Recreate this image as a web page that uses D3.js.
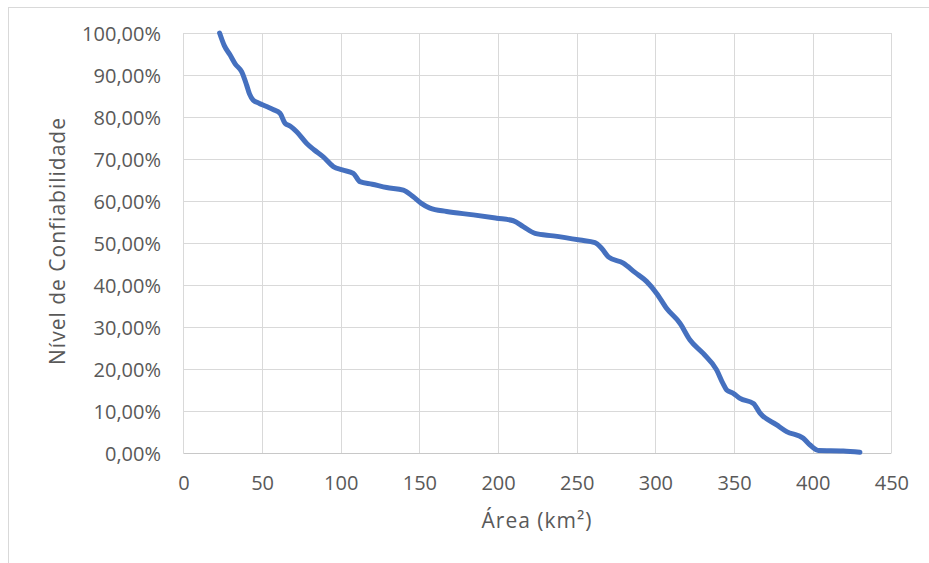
<!DOCTYPE html>
<html><head><meta charset="utf-8">
<script src="https://cdn.jsdelivr.net/npm/d3@7/dist/d3.min.js"></script>
<style>body{margin:0;background:#fff}svg{display:block}</style>
</head><body><svg id="c" width="929" height="563"></svg>
<script>
const area = [23,26,29.6,33,37,40.2,42,44.4,48,52.9,57,61.4,64.6,68,72,78.4,83,88.9,95.3,101,108,112.2,120,129.2,139.8,146.1,151,156.7,167.3,184.3,199.1,209.7,216,223.5,235.1,252.1,261.6,265.9,270.1,279.6,287,294.5,300.8,307.2,315.6,322,330.4,338.9,343,345.3,349.5,353.8,362.3,366.5,377.1,383.4,394,398.3,403.6,419.4,430];
const conf = [100,97,94.8,92.6,90.8,87.6,85.5,84.0,83.3,82.5,81.8,80.9,78.5,77.8,76.5,73.7,72.2,70.5,68.2,67.4,66.6,64.6,64,63.2,62.6,61.0,59.5,58.3,57.5,56.7,55.9,55.3,53.9,52.3,51.7,50.7,50.1,48.7,46.7,45.2,43,40.8,38.0,34.4,30.9,26.9,23.7,19.8,16.5,15.0,14.2,13.0,11.8,9.5,6.7,5.1,3.5,1.9,0.6,0.5,0.2];
const xTicks = [0,50,100,150,200,250,300,350,400,450];
const yTicks = [0,10,20,30,40,50,60,70,80,90,100];
const xTitle = "Área (km²)";
const yTitle = "Nível de Confiabilidade";

const svg = d3.select("#c");
const font = "'Open Sans', sans-serif";
svg.append("rect").attr("x",8.5).attr("y",7.5).attr("width",1000).attr("height",1000)
  .attr("fill","#fff").attr("stroke","#d9d9d9");

const x = d3.scaleLinear().domain([0,450]).range([183.4,891.4]);
const y = d3.scaleLinear().domain([0,100]).range([453,33]);
const loc = d3.formatLocale({decimal:",",thousands:".",grouping:[3],currency:["",""]});
const fmtY = d => loc.format(".2f")(d) + "%";

const g = svg.append("g");
g.selectAll("line.h").data(yTicks).join("line")
  .attr("x1",x(0)).attr("x2",x(450)).attr("y1",d=>Math.round(y(d))+0.5).attr("y2",d=>Math.round(y(d))+0.5)
  .attr("stroke",d=>d===0?"#c8c8c8":"#d9d9d9").attr("stroke-width",1);
g.selectAll("line.v").data(xTicks).join("line")
  .attr("y1",y(0)).attr("y2",y(100)).attr("x1",d=>Math.round(x(d))+0.5).attr("x2",d=>Math.round(x(d))+0.5)
  .attr("stroke","#d9d9d9").attr("stroke-width",1);

const xAxis = d3.axisBottom(x).tickValues(xTicks).tickSize(0).tickPadding(0).tickFormat(d3.format("d"));
const xa = svg.append("g").attr("transform",`translate(0,${y(0)})`).call(xAxis);
xa.select(".domain").remove();
xa.selectAll("text").attr("y",37).attr("dy",null).attr("fill","#595959")
  .style("font-family",font).style("font-size","20px");

const yAxis = d3.axisLeft(y).tickValues(yTicks).tickSize(0).tickPadding(0).tickFormat(fmtY);
const ya = svg.append("g").attr("transform",`translate(161,0)`).call(yAxis);
ya.select(".domain").remove();
ya.selectAll("text").attr("x",0).attr("dy","0.36em").attr("fill","#595959")
  .style("font-family",font).style("font-size","20px");

const pts = area.map((a,i)=>[a,conf[i]]);
svg.append("path").datum(pts)
  .attr("d",d3.line().x(d=>x(d[0])).y(d=>y(d[1])).curve(d3.curveMonotoneX))
  .attr("fill","none").attr("stroke","#4570bf").attr("stroke-width",5)
  .attr("stroke-linejoin","round").attr("stroke-linecap","round");

svg.append("text").attr("x",537).attr("y",528).attr("text-anchor","middle")
  .attr("fill","#595959").style("font-family",font).style("font-size","21px")
  .style("letter-spacing","1px").text(xTitle);
svg.append("text").attr("transform","translate(65,241) rotate(-90)").attr("text-anchor","middle")
  .attr("fill","#595959").style("font-family",font).style("font-size","21px")
  .style("letter-spacing","1px").text(yTitle);
</script></body></html>
